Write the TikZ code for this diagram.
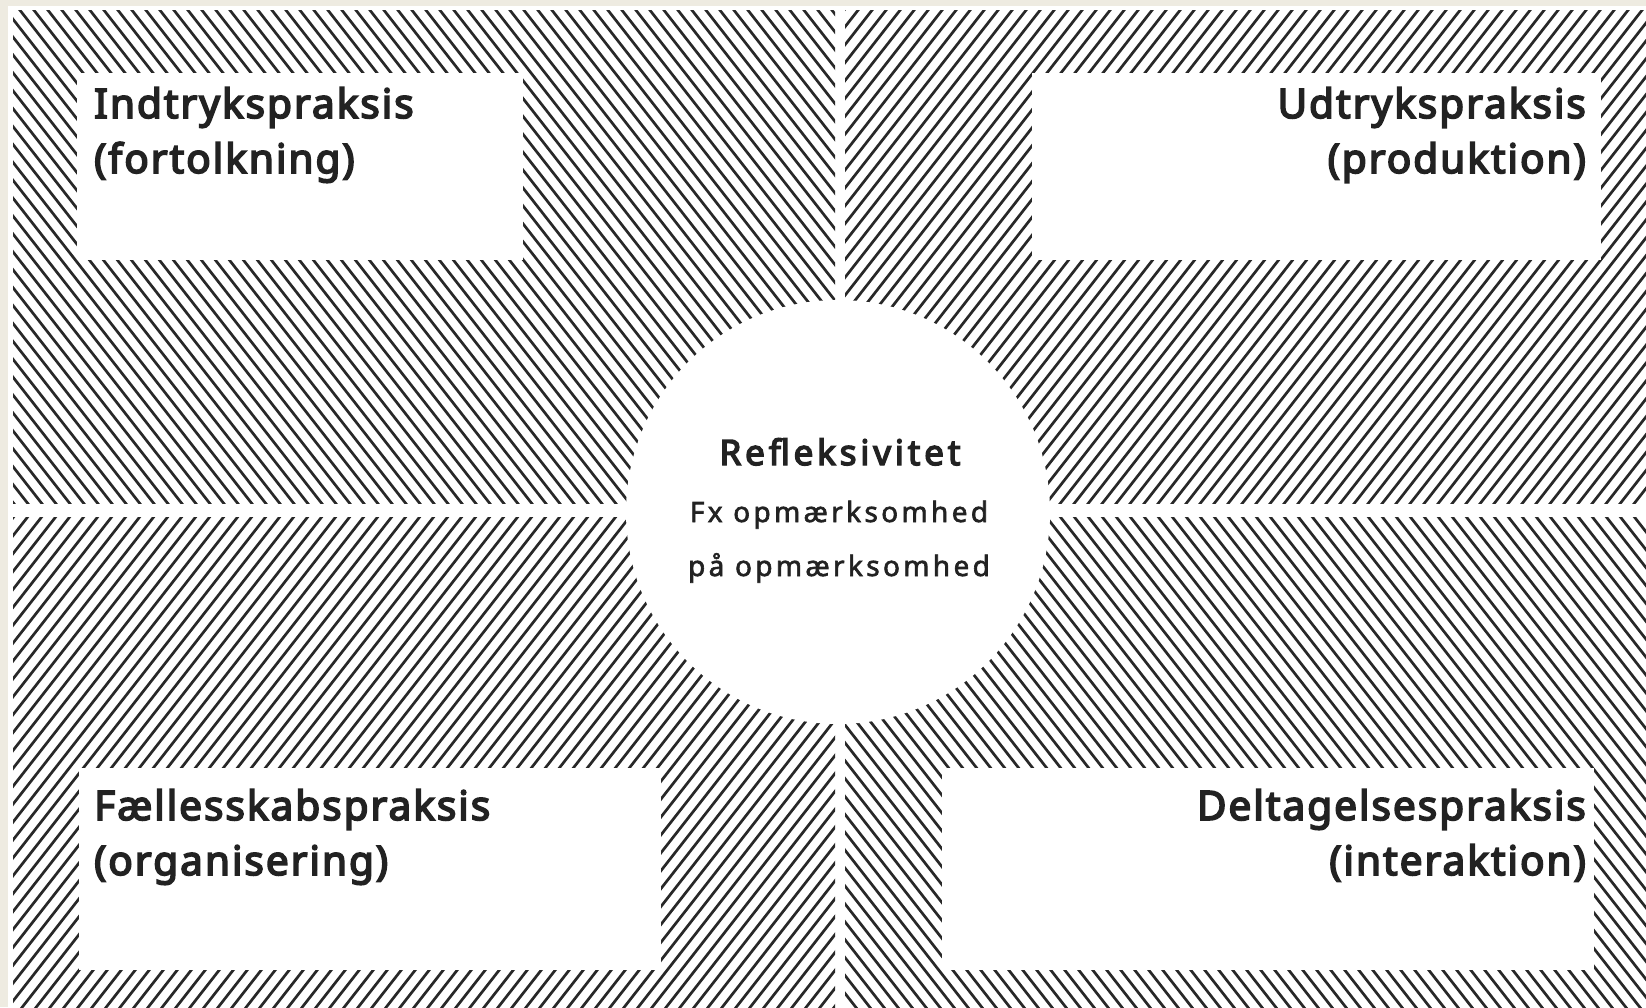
\documentclass[tikz,border=0pt]{standalone}
\usepackage{fontspec}
\setmainfont{Noto Sans}
\newfontfamily\titlefont[FakeBold=4.2,LetterSpace=5]{Noto Sans}
\newfontfamily\ctitlefont[FakeBold=4.2,LetterSpace=11]{Noto Sans}
\newfontfamily\csubfont[FakeBold=2.2,LetterSpace=12]{Noto Sans}
\definecolor{beige}{RGB}{238,235,225}
\definecolor{txt}{RGB}{34,34,34}
\definecolor{ink}{RGB}{40,40,40}
\begin{document}
\begin{tikzpicture}[x=1pt,y=-1pt,
  hatch/.style={line width=2.7pt, draw=ink},
  panel/.style={fill=white, draw=none, inner sep=0pt, anchor=north west},
  title/.style={font=\titlefont\fontsize{40.5}{56}\selectfont, text=txt, inner sep=0pt},
  centertitle/.style={font=\ctitlefont\fontsize{35}{44}\selectfont, text=txt, inner sep=0pt, anchor=base},
  centersub/.style={font=\csubfont\fontsize{28}{36}\selectfont, text=txt, inner sep=0pt, anchor=base}]
\useasboundingbox (0,0) rectangle (1646,1007);
\fill[beige] (0,0) rectangle (1646,1007);
\fill[white] (8,6) rectangle (1646,1007);
% hatched quadrants
\begin{scope}
  \clip (13,10) rectangle (835,503);
  \foreach \c in {-800,-786,...,2460} \draw[hatch] (\c,0) -- ++(790,1010);
\end{scope}
\begin{scope}
  \clip (845,10) rectangle (1646,503);
  \foreach \c in {-800,-786,...,2460} \draw[hatch] (\c,0) -- ++(-790,1010);
\end{scope}
\begin{scope}
  \clip (13,517) rectangle (835,1007);
  \foreach \c in {-800,-786,...,2460} \draw[hatch] (\c,0) -- ++(-790,1010);
\end{scope}
\begin{scope}
  \clip (845,517) rectangle (1646,1007);
  \foreach \c in {-800,-786,...,2460} \draw[hatch] (\c,0) -- ++(790,1010);
\end{scope}
% white panels
\node[panel, minimum width=446pt, minimum height=187pt] (tl) at (77,73) {};
\node[panel, minimum width=569pt, minimum height=187pt] (tr) at (1032,73) {};
\node[panel, minimum width=582pt, minimum height=202pt] (bl) at (79,768) {};
\node[panel, minimum width=652pt, minimum height=202pt] (br) at (942,768) {};
\node[circle, fill=white, draw=none, minimum size=424pt, inner sep=0pt] (c) at (838,512) {};
% texts
\node[title, anchor=base west] (tla) at (94,118) {Indtrykspraksis};
\node[title, anchor=base west] (tlb) at (94,173) {(fortolkning)};
\node[title, anchor=base east] (tra) at (1586,118) {Udtrykspraksis};
\node[title, anchor=base east] (trb) at (1586,173) {(produktion)};
\node[title, anchor=base west] (bla) at (94,820) {Fællesskabspraksis};
\node[title, anchor=base west] (blb) at (94,875) {(organisering)};
\node[title, anchor=base east] (bra) at (1586,820) {Deltagelsespraksis};
\node[title, anchor=base east] (brb) at (1586,875) {(interaktion)};
\node[centertitle] (ca) at (840,465) {Refleksivitet};
\node[centersub] (cb) at (839,522) {Fx opmærksomhed};
\node[centersub] (cc) at (839,576) {på opmærksomhed};
\end{tikzpicture}
\end{document}
